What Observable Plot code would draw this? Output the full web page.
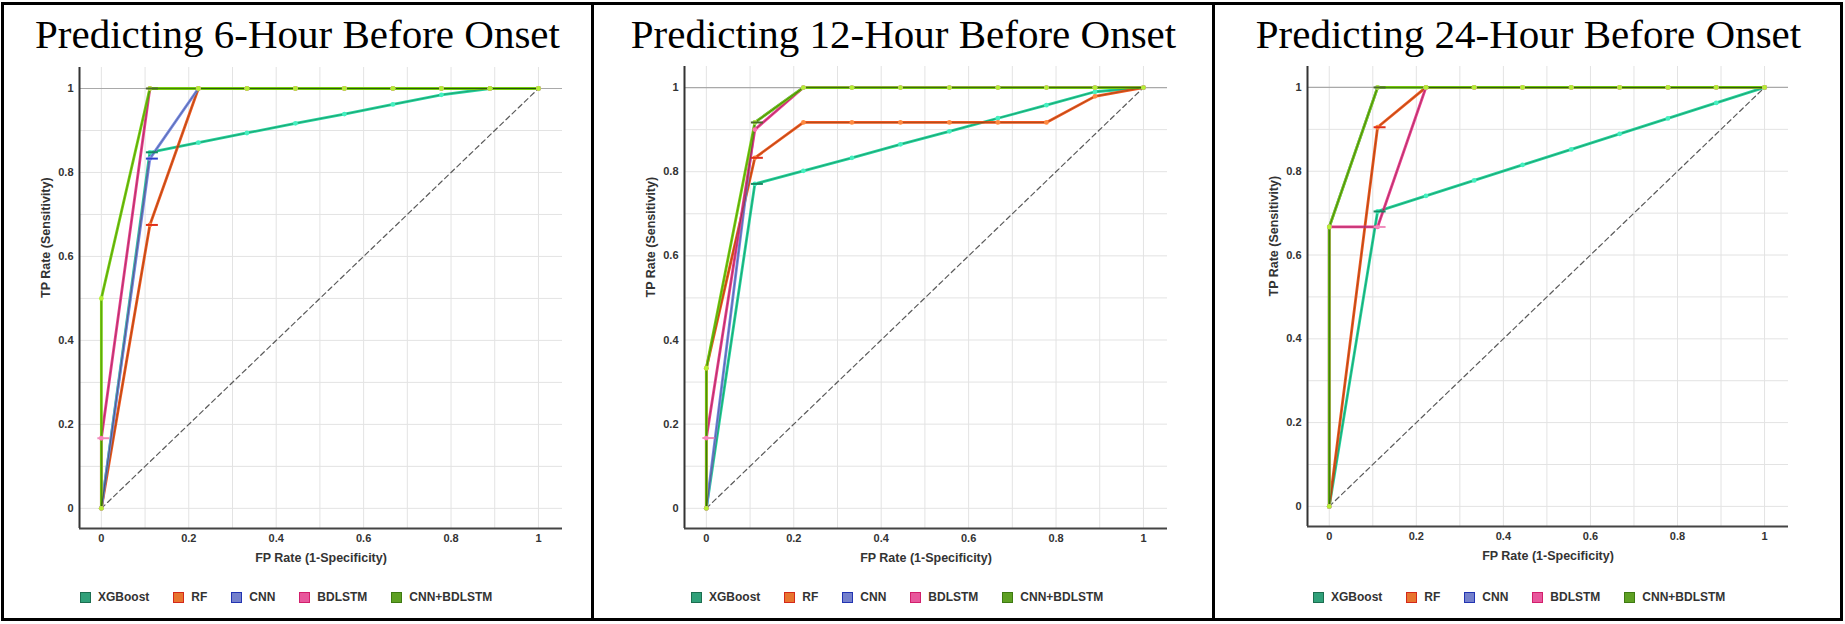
<!DOCTYPE html>
<html>
<head>
<meta charset="utf-8">
<script src="https://cdn.jsdelivr.net/npm/d3@7"></script>
<script src="https://cdn.jsdelivr.net/npm/@observablehq/plot@0.6"></script>
<style>
  html, body { margin: 0; padding: 0; background: #fff; }
  body { width: 1845px; height: 624px; position: relative; overflow: hidden; font-family: "Liberation Sans", Arial, sans-serif; }
  #frame { position: absolute; left: 1px; top: 2px; width: 1836px; height: 613px; border: 3px solid #000; }
  .divider { position: absolute; top: 2px; width: 3px; height: 619px; background: #000; }
  .title { position: absolute; top: 14px; text-align: center; font-family: "Liberation Serif", "Times New Roman", serif; font-size: 41px; line-height: 40px; color: #000; white-space: nowrap; }
  .plot { position: absolute; top: 0; }
  .legend { position: absolute; top: 590px; display: flex; gap: 24px; align-items: center; font-size: 12px; font-weight: bold; color: #333; }
  .item { display: flex; align-items: center; }
  .sw { display: inline-block; width: 9px; height: 9px; border: 1.5px solid; margin-right: 7px; }
</style>
</head>
<body>
<div id="frame"></div>
<div class="divider" style="left:591px"></div>
<div class="divider" style="left:1212px"></div>
<div id="stage"></div>
<script>
// ---------- data ----------
const models = ["XGBoost", "RF", "CNN", "BDLSTM", "CNN+BDLSTM"];
const titles = ["Predicting 6-Hour Before Onset", "Predicting 12-Hour Before Onset", "Predicting 24-Hour Before Onset"];
const xLabel = "FP Rate (1-Specificity)";
const yLabel = "TP Rate (Sensitivity)";
const axisTicks = [0, 0.2, 0.4, 0.6, 0.8, 1];
const gridTicks = [0, 0.1, 0.2, 0.3, 0.4, 0.5, 0.6, 0.7, 0.8, 0.9, 1];
const chanceFpr = [0, 1];
const chanceTpr = [0, 1];

// 6-hour
const fpr6_xgb = [0, 0.111, 0.222, 0.333, 0.444, 0.556, 0.667, 0.778, 0.889, 1];
const tpr6_xgb = [0, 0.848, 0.871, 0.894, 0.917, 0.939, 0.962, 0.985, 1, 1];
const fpr6_rf = [0, 0.111, 0.222, 0.333, 0.444, 0.556, 0.667, 0.778, 0.889, 1];
const tpr6_rf = [0, 0.675, 1, 1, 1, 1, 1, 1, 1, 1];
const fpr6_cnn = [0, 0.111, 0.222, 0.333, 0.444, 0.556, 0.667, 0.778, 0.889, 1];
const tpr6_cnn = [0, 0.833, 1, 1, 1, 1, 1, 1, 1, 1];
const fpr6_bdlstm = [0, 0, 0.111, 0.222, 0.333, 0.444, 0.556, 0.667, 0.778, 0.889, 1];
const tpr6_bdlstm = [0, 0.167, 1, 1, 1, 1, 1, 1, 1, 1, 1];
const fpr6_cnnb = [0, 0, 0.111, 0.222, 0.333, 0.444, 0.556, 0.667, 0.778, 0.889, 1];
const tpr6_cnnb = [0, 0.5, 1, 1, 1, 1, 1, 1, 1, 1, 1];
const tick6_model = ["XGBoost", "RF", "CNN", "BDLSTM", "CNN+BDLSTM"];
const tick6_fpr = [0.111, 0.111, 0.111, 0, 0.111];
const tick6_tpr = [0.848, 0.675, 0.833, 0.167, 1];

// 12-hour
const fpr12_xgb = [0, 0.111, 0.222, 0.333, 0.444, 0.556, 0.667, 0.778, 0.889, 1];
const tpr12_xgb = [0, 0.771, 0.802, 0.833, 0.865, 0.896, 0.927, 0.958, 0.99, 1];
const fpr12_rf = [0, 0, 0.111, 0.222, 0.333, 0.444, 0.556, 0.667, 0.778, 0.889, 1];
const tpr12_rf = [0, 0.333, 0.833, 0.917, 0.917, 0.917, 0.917, 0.917, 0.917, 0.979, 1];
const fpr12_cnn = [0, 0.111, 0.222, 0.333, 0.444, 0.556, 0.667, 0.778, 0.889, 1];
const tpr12_cnn = [0, 0.917, 1, 1, 1, 1, 1, 1, 1, 1];
const fpr12_bdlstm = [0, 0, 0.111, 0.222, 0.333, 0.444, 0.556, 0.667, 0.778, 0.889, 1];
const tpr12_bdlstm = [0, 0.167, 0.9, 1, 1, 1, 1, 1, 1, 1, 1];
const fpr12_cnnb = [0, 0, 0.111, 0.222, 0.333, 0.444, 0.556, 0.667, 0.778, 0.889, 1];
const tpr12_cnnb = [0, 0.333, 0.917, 1, 1, 1, 1, 1, 1, 1, 1];
const tick12_model = ["XGBoost", "RF", "BDLSTM", "CNN+BDLSTM"];
const tick12_fpr = [0.111, 0.111, 0, 0.111];
const tick12_tpr = [0.771, 0.833, 0.167, 0.917];

// 24-hour
const fpr24_xgb = [0, 0.111, 0.222, 0.333, 0.444, 0.556, 0.667, 0.778, 0.889, 1];
const tpr24_xgb = [0, 0.704, 0.741, 0.778, 0.815, 0.852, 0.889, 0.926, 0.963, 1];
const fpr24_rf = [0, 0.111, 0.222, 0.333, 0.444, 0.556, 0.667, 0.778, 0.889, 1];
const tpr24_rf = [0, 0.905, 1, 1, 1, 1, 1, 1, 1, 1];
const fpr24_cnn = [0, 0, 0.111, 0.222, 0.333, 0.444, 0.556, 0.667, 0.778, 0.889, 1];
const tpr24_cnn = [0, 0.667, 1, 1, 1, 1, 1, 1, 1, 1, 1];
const fpr24_bdlstm = [0, 0, 0.111, 0.222, 0.333, 0.444, 0.556, 0.667, 0.778, 0.889, 1];
const tpr24_bdlstm = [0, 0.667, 0.667, 1, 1, 1, 1, 1, 1, 1, 1];
const fpr24_cnnb = [0, 0, 0.111, 0.222, 0.333, 0.444, 0.556, 0.667, 0.778, 0.889, 1];
const tpr24_cnnb = [0, 0.667, 1, 1, 1, 1, 1, 1, 1, 1, 1];
const tick24_model = ["XGBoost", "RF", "BDLSTM", "CNN+BDLSTM"];
const tick24_fpr = [0.111, 0.111, 0.111, 0.111];
const tick24_tpr = [0.704, 0.905, 0.667, 1];

// ---------- styles ----------
const lineColor = {"XGBoost": "#22d29c", "RF": "#f0561e", "CNN": "#7686e4", "BDLSTM": "#ec3a8e", "CNN+BDLSTM": "#78cf10"};
const dotColor = {"XGBoost": "#45f0c0", "RF": "#ff8a40", "CNN": "#9aa6f0", "BDLSTM": "#ff70b0", "CNN+BDLSTM": "#b4f034"};
const tickColor = {"XGBoost": "#138a62", "RF": "#e0301a", "CNN": "#2e40cc", "BDLSTM": "#f08cbc", "CNN+BDLSTM": "#4a6a2a"};
const swFill = {"XGBoost": "#30a079", "RF": "#e8742e", "CNN": "#7480cc", "BDLSTM": "#e8579c", "CNN+BDLSTM": "#5ea023"};
const swStroke = {"XGBoost": "#1c6e50", "RF": "#d4281a", "CNN": "#2234b2", "BDLSTM": "#d21f6c", "CNN+BDLSTM": "#3e7a12"};

function rowsOf(list) {
  return list.flatMap(([model, fpr, tpr]) => fpr.map((x, i) => ({model, x, y: tpr[i]})));
}
function tickRowsOf(ms, fpr, tpr) {
  return ms.map((m, i) => ({model: m, x: fpr[i], y: tpr[i]}));
}

const panels = [
  {
    title: titles[0], pLeft: 2, pWidth: 591, svgLeft: 0, width: 590, ml: 79, mr: 28, mt: 67, mb: 52, legendLeft: 80,
    series: rowsOf([["XGBoost", fpr6_xgb, tpr6_xgb], ["RF", fpr6_rf, tpr6_rf], ["CNN", fpr6_cnn, tpr6_cnn], ["BDLSTM", fpr6_bdlstm, tpr6_bdlstm], ["CNN+BDLSTM", fpr6_cnnb, tpr6_cnnb]]),
    ticks: tickRowsOf(tick6_model, tick6_fpr, tick6_tpr)
  },
  {
    title: titles[1], pLeft: 594, pWidth: 619, svgLeft: 600, width: 590, ml: 84, mr: 23, mt: 66, mb: 52, legendLeft: 691,
    series: rowsOf([["XGBoost", fpr12_xgb, tpr12_xgb], ["RF", fpr12_rf, tpr12_rf], ["CNN", fpr12_cnn, tpr12_cnn], ["BDLSTM", fpr12_bdlstm, tpr12_bdlstm], ["CNN+BDLSTM", fpr12_cnnb, tpr12_cnnb]]),
    ticks: tickRowsOf(tick12_model, tick12_fpr, tick12_tpr)
  },
  {
    title: titles[2], pLeft: 1215, pWidth: 627, svgLeft: 1220, width: 600, ml: 87, mr: 32, mt: 66, mb: 54, legendLeft: 1313,
    series: rowsOf([["XGBoost", fpr24_xgb, tpr24_xgb], ["RF", fpr24_rf, tpr24_rf], ["CNN", fpr24_cnn, tpr24_cnn], ["BDLSTM", fpr24_bdlstm, tpr24_bdlstm], ["CNN+BDLSTM", fpr24_cnnb, tpr24_cnnb]]),
    ticks: tickRowsOf(tick24_model, tick24_fpr, tick24_tpr)
  }
];

const hbar = {
  draw(context, size) {
    const w = Math.sqrt(size / Math.PI);
    context.moveTo(-w, 0);
    context.lineTo(w, 0);
  }
};

const xDomain = [-0.05, 1.055];
const yDomain = [-0.048, 1.05];
const chance = chanceFpr.map((x, i) => ({x, y: chanceTpr[i]}));
const stage = document.getElementById("stage");

for (const p of panels) {
  const t = document.createElement("div");
  t.className = "title";
  t.style.left = p.pLeft + "px";
  t.style.width = p.pWidth + "px";
  t.textContent = p.title;
  stage.appendChild(t);

  const chart = Plot.plot({
    width: p.width,
    height: 580,
    marginLeft: p.ml, marginRight: p.mr, marginTop: p.mt, marginBottom: p.mb,
    x: {domain: xDomain},
    y: {domain: yDomain},
    style: {fontFamily: "'Liberation Sans', Arial, sans-serif", fontSize: "11px", background: "transparent", overflow: "visible"},
    marks: [
      Plot.ruleX(gridTicks, {stroke: "#e3e3e3", strokeWidth: 1}),
      Plot.ruleY(gridTicks, {stroke: "#e3e3e3", strokeWidth: 1}),
      Plot.ruleY([1], {stroke: "#a9a9a9", strokeWidth: 1.2}),
      Plot.line(chance, {x: "x", y: "y", stroke: "#5a5a5a", strokeWidth: 1.2, strokeDasharray: "5,3.5"}),
      Plot.line(p.series, {x: "x", y: "y", z: "model", stroke: d => lineColor[d.model], strokeWidth: 2.8}),
      Plot.line(p.series, {x: "x", y: "y", z: "model", stroke: "#1d3a10", strokeOpacity: 0.3, strokeWidth: 1}),
      Plot.dot(p.series, {x: "x", y: "y", fill: d => dotColor[d.model], r: 2.4}),
      Plot.dot(p.ticks, {x: "x", y: "y", symbol: hbar, r: 6, dx: 2, fill: "none", stroke: d => tickColor[d.model], strokeWidth: 2}),
      Plot.ruleX([xDomain[0]], {stroke: "#333", strokeWidth: 2}),
      Plot.ruleY([yDomain[0]], {stroke: "#444", strokeWidth: 2}),
      Plot.axisX({ticks: axisTicks, tickSize: 0, tickPadding: 6, tickFormat: d => String(d), label: null, fontWeight: "bold", fill: "#333"}),
      Plot.axisY({ticks: axisTicks, tickSize: 0, tickPadding: 6, tickFormat: d => String(d), label: null, fontWeight: "bold", fill: "#333"}),
      Plot.text([xLabel], {text: d => d, frameAnchor: "bottom", dy: 33, fontSize: 12.5, fontWeight: "bold", fill: "#333"}),
      Plot.text([yLabel], {text: d => d, frameAnchor: "left", dx: -34, rotate: -90, fontSize: 12.5, fontWeight: "bold", fill: "#333"})
    ]
  });
  const wrap = document.createElement("div");
  wrap.className = "plot";
  wrap.style.left = p.svgLeft + "px";
  wrap.appendChild(chart);
  stage.appendChild(wrap);

  const lg = document.createElement("div");
  lg.className = "legend";
  lg.style.left = p.legendLeft + "px";
  for (const m of models) {
    const it = document.createElement("span");
    it.className = "item";
    const sw = document.createElement("span");
    sw.className = "sw";
    sw.style.background = swFill[m];
    sw.style.borderColor = swStroke[m];
    const tx = document.createElement("span");
    tx.textContent = m;
    it.appendChild(sw);
    it.appendChild(tx);
    lg.appendChild(it);
  }
  stage.appendChild(lg);
}
</script>
</body>
</html>
